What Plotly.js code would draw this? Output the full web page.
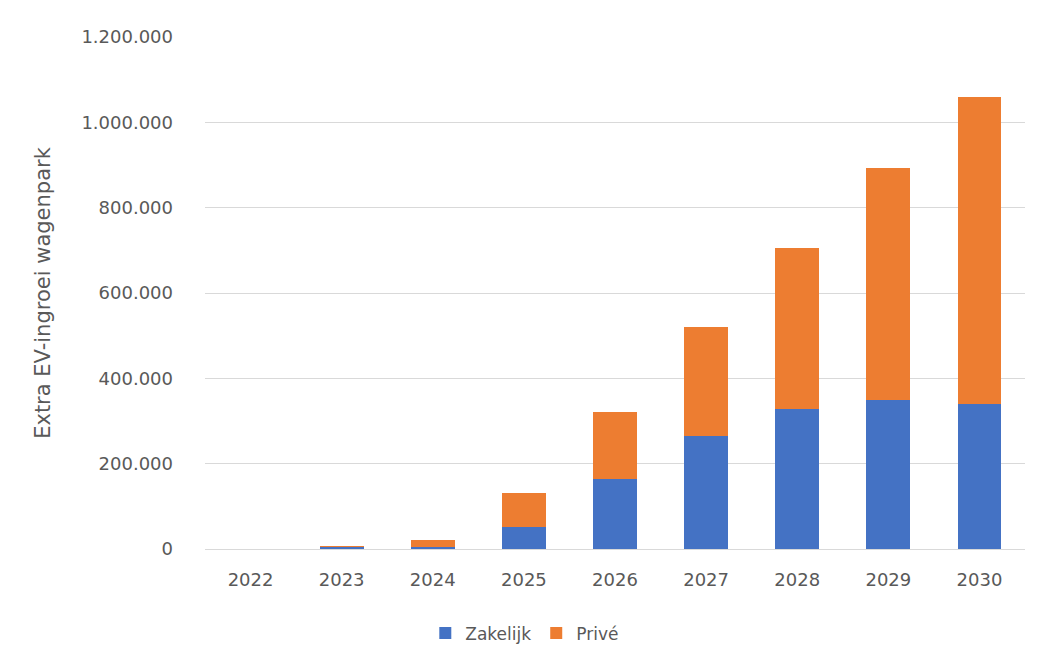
<!DOCTYPE html>
<html>
<head>
<meta charset="utf-8">
<script src="https://cdn.plot.ly/plotly-3.0.1.min.js"></script>
<style>html,body{margin:0;padding:0;background:#fff;}#chart{width:1043px;height:664px;}</style>
</head>
<body>
<div id="chart"></div>
<script>
const years = ["2022","2023","2024","2025","2026","2027","2028","2029","2030"];
const zakelijk = [0, 5000, 4000, 51000, 163000, 265000, 327000, 350000, 341000];
const prive = [0, 1000, 17000, 80000, 158000, 256000, 378000, 542000, 718000];
const yTicks = [0, 200000, 400000, 600000, 800000, 1000000, 1200000];

const fam = "'DejaVu Sans', sans-serif";
const grey = "#595959";

const traces = [
  {type: "bar", name: "Zakelijk", x: years, y: zakelijk, marker: {color: "#4472C4"}},
  {type: "bar", name: "Privé", x: years, y: prive, marker: {color: "#ED7D31"}}
];

const layout = {
  width: 1043, height: 664,
  barmode: "stack",
  bargap: 0.52,
  separators: ",.",
  paper_bgcolor: "#ffffff",
  plot_bgcolor: "#ffffff",
  margin: {l: 205, r: 18, t: 37, b: 113},
  font: {family: fam, color: grey},
  showlegend: true,
  legend: {orientation: "h", x: 0.39, xanchor: "center", y: -0.165, yanchor: "middle",
           font: {size: 17, color: grey, family: fam}, traceorder: "normal",
           itemwidth: 30},
  xaxis: {type: "category", showgrid: false, showline: true, linecolor: "#d9d9d9", linewidth: 1,
          ticks: "", tickfont: {size: 18, color: grey, family: fam}, ticklabelstandoff: 14},
  yaxis: {range: [0, 1200000], tickvals: yTicks, tickformat: ",d", showgrid: true, gridcolor: "#d9d9d9",
          gridwidth: 1, zeroline: false, showline: false, ticks: "",
          tickfont: {size: 18, color: grey, family: fam}, ticklabelstandoff: 31,
          title: {text: "Extra EV-ingroei wagenpark", font: {size: 21, color: grey, family: fam}, standoff: 25}}
};

Plotly.newPlot("chart", traces, layout, {displayModeBar: false, staticPlot: true});
</script>
</body>
</html>
